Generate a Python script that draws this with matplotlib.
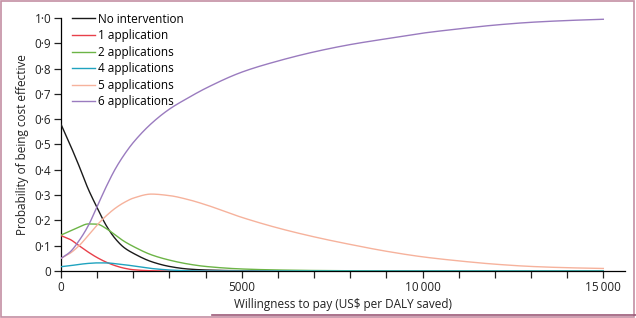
import numpy as np
import matplotlib
matplotlib.use('Agg')
from matplotlib import pyplot as plt
from matplotlib.patches import Rectangle
from matplotlib.lines import Line2D
from matplotlib.ticker import FuncFormatter, MultipleLocator, FixedLocator

plt.rcParams['font.family'] = ['Open Sans', 'DejaVu Sans']

# willingness to pay (US$ per DALY saved)
wtp = [0, 250, 500, 750, 1000, 1250, 1500, 1750, 2000, 2500, 3000, 3500, 4000,
       5000, 6000, 7000, 8000, 9000, 10000, 11000, 12000, 13000, 14000, 15000]

no_intervention = [0.58, 0.5, 0.415, 0.325, 0.25, 0.18, 0.128, 0.092, 0.07, 0.037, 0.018, 0.008, 0.004,
                   0.001, 0.0, 0.0, 0.0, 0.0, 0.0, 0.0, 0.0, 0.0, 0.0, 0.0]
app_1 = [0.14, 0.125, 0.1, 0.075, 0.053, 0.035, 0.021, 0.011, 0.005, 0.001, 0.0, 0.0, 0.0,
         0.0, 0.0, 0.0, 0.0, 0.0, 0.0, 0.0, 0.0, 0.0, 0.0, 0.0]
app_2 = [0.142, 0.158, 0.174, 0.186, 0.185, 0.168, 0.142, 0.117, 0.097, 0.064, 0.043, 0.028, 0.018,
         0.008, 0.004, 0.002, 0.001, 0.0, 0.0, 0.0, 0.0, 0.0, 0.0, 0.0]
app_4 = [0.017, 0.021, 0.026, 0.03, 0.032, 0.032, 0.029, 0.025, 0.02, 0.01, 0.004, 0.001, 0.0,
         0.0, 0.0, 0.0, 0.0, 0.0, 0.0, 0.0, 0.0, 0.0, 0.0, 0.0]
app_5 = [0.05, 0.07, 0.1, 0.14, 0.182, 0.218, 0.248, 0.271, 0.288, 0.304, 0.298, 0.283, 0.262,
         0.212, 0.17, 0.135, 0.105, 0.078, 0.056, 0.04, 0.027, 0.018, 0.013, 0.01]
app_6 = [0.05, 0.075, 0.12, 0.178, 0.255, 0.333, 0.403, 0.46, 0.508, 0.583, 0.64, 0.683, 0.722,
         0.786, 0.83, 0.866, 0.895, 0.918, 0.94, 0.957, 0.972, 0.983, 0.99, 0.995]

labels = ['No intervention', '1 application', '2 applications', '4 applications',
          '5 applications', '6 applications']
colors = ['#1a1a1a', '#e8404a', '#6cb446', '#1fa3bf', '#f6b29c', '#9a7bbf']
series = [no_intervention, app_1, app_2, app_4, app_5, app_6]


def pchip(x, y, xn):
    # monotone cubic (Fritsch-Carlson) so the read-off points join smoothly
    x = np.asarray(x, float)
    y = np.asarray(y, float)
    h = np.diff(x)
    d = np.diff(y) / h
    m = np.zeros_like(y)
    for i in range(1, len(x) - 1):
        if d[i - 1] * d[i] > 0:
            w1 = 2 * h[i] + h[i - 1]
            w2 = h[i] + 2 * h[i - 1]
            m[i] = (w1 + w2) / (w1 / d[i - 1] + w2 / d[i])
    m[0] = d[0]
    m[-1] = d[-1]
    idx = np.clip(np.searchsorted(x, xn) - 1, 0, len(x) - 2)
    t = (xn - x[idx]) / h[idx]
    h00 = 2 * t**3 - 3 * t**2 + 1
    h10 = t**3 - 2 * t**2 + t
    h01 = -2 * t**3 + 3 * t**2
    h11 = t**3 - t**2
    return h00 * y[idx] + h10 * h[idx] * m[idx] + h01 * y[idx + 1] + h11 * h[idx] * m[idx + 1]


def dot_fmt(v, pos):
    if abs(v) < 1e-9:
        return '0'
    return '{:.1f}'.format(v).replace('.', '\u00b7')


def x_fmt(v, pos):
    v = int(round(v))
    if v >= 10000:
        return '{}\u2009{:03d}'.format(v // 1000, v % 1000)
    return str(v)


fig = plt.figure(figsize=(6.36, 3.18), dpi=100)
ax = fig.add_axes([61 / 636, 1 - 271 / 318, 564 / 636, 253 / 318])

xs = np.linspace(0, 15000, 1501)
for vals, col, lab in zip(series, colors, labels):
    ax.plot(xs, pchip(wtp, vals, xs), color=col, lw=1.0, label=lab, zorder=3)

ax.spines['top'].set_visible(False)
ax.spines['right'].set_visible(False)
ax.spines['left'].set_bounds(0, 1.0)
ax.spines['left'].set_linewidth(0.9)
ax.spines['bottom'].set_linewidth(0.9)

ax.xaxis.set_major_locator(FixedLocator([0, 5000, 10000, 15000]))
ax.xaxis.set_minor_locator(FixedLocator(np.arange(0, 15001, 1000)))
ax.yaxis.set_major_locator(MultipleLocator(0.1))
ax.xaxis.set_major_formatter(FuncFormatter(x_fmt))
ax.yaxis.set_major_formatter(FuncFormatter(dot_fmt))
ax.tick_params(axis='both', which='both', direction='out', length=5, width=0.9,
               labelsize=8.5, colors='#222222', pad=2)

ax.set_xlim(0, 15600)
ax.set_ylim(0, 1.0)

ax.set_xlabel('Willingness to pay (US$ per DALY saved)', fontsize=8.5, color='#222222', labelpad=3)
ax.set_ylabel('Probability of being cost effective', fontsize=8.5, color='#222222', labelpad=4)

ax.legend(loc='upper left', bbox_to_anchor=(0.012, 1.04), frameon=False, fontsize=8.5,
          handlelength=1.9, handletextpad=0.25, labelspacing=0.3, borderaxespad=0)

# page frame
fig.patches.append(Rectangle((0.0015, 0.003), 0.996, 0.994, transform=fig.transFigure,
                             fill=False, edgecolor='#c48fa3', lw=1.2))
fig.lines.append(Line2D([212 / 636, 1.0], [1 - 315 / 318] * 2, transform=fig.transFigure,
                        color='#9c5a78', lw=1.2))

plt.savefig('out.png', dpi=100)
